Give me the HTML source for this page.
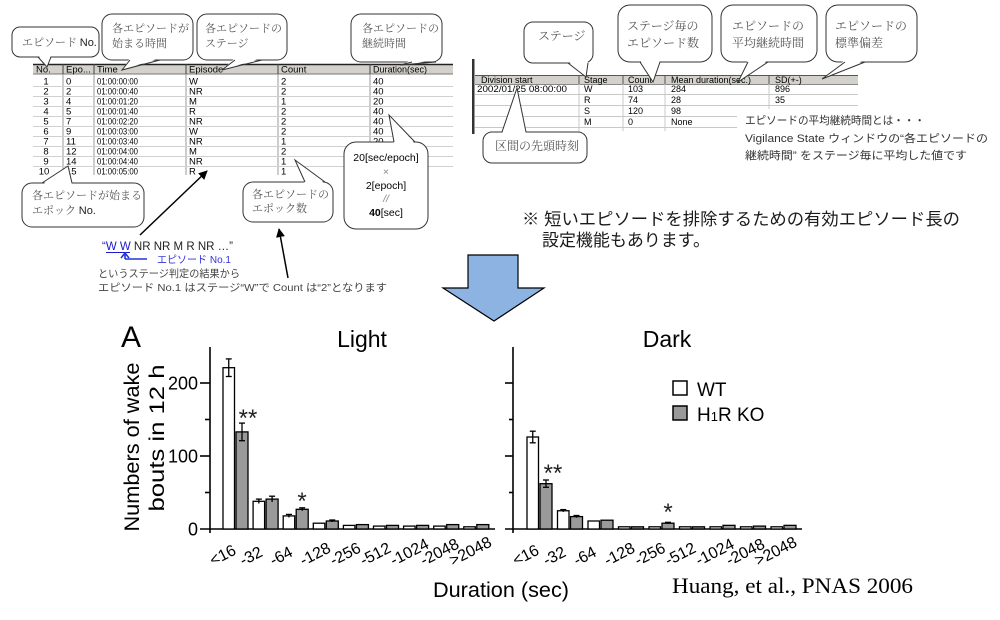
<!DOCTYPE html>
<html><head><meta charset="utf-8"><style>
html,body{margin:0;padding:0;background:#fff;}
body{width:1000px;height:620px;overflow:hidden;}
svg{display:block;}
.s{font-family:"Liberation Sans","Noto Sans CJK JP",sans-serif;}
.m{font-family:"Liberation Serif","Noto Serif CJK SC",serif;}
.tm{font-family:"Liberation Serif",serif;}
</style></head><body>
<svg width="1000" height="620" viewBox="0 0 1000 620" xmlns="http://www.w3.org/2000/svg">
<defs>
<clipPath id="lt"><rect x="0" y="60" width="470" height="115"/></clipPath>
<marker id="ah" viewBox="0 0 10 10" refX="9" refY="5" markerWidth="6" markerHeight="6" orient="auto"><path d="M0,0 L10,5 L0,10 z" fill="#000"/></marker>
</defs>

<!-- ===== LEFT TABLE ===== -->
<g clip-path="url(#lt)" class="s" font-size="9.5" fill="#000">
<rect x="33" y="64" width="420" height="10" fill="#d4d1cc"/>
<line x1="33" y1="64.5" x2="453" y2="64.5" stroke="#222" stroke-width="1.5"/>
<line x1="33" y1="74" x2="453" y2="74" stroke="#777"/>
<g stroke="#444"><line x1="63" y1="64" x2="63" y2="74"/><line x1="94" y1="64" x2="94" y2="74"/><line x1="186" y1="64" x2="186" y2="74"/><line x1="278" y1="64" x2="278" y2="74"/><line x1="370" y1="64" x2="370" y2="74"/></g>
<g stroke="#999"><line x1="63" y1="74" x2="63" y2="176"/><line x1="94" y1="74" x2="94" y2="176"/><line x1="186" y1="74" x2="186" y2="176"/><line x1="278" y1="74" x2="278" y2="176"/><line x1="370" y1="74" x2="370" y2="176"/></g>
<g stroke="#d0d0d0"><line x1="33" y1="86.5" x2="453" y2="86.5"/><line x1="33" y1="96.5" x2="453" y2="96.5"/><line x1="33" y1="106.5" x2="453" y2="106.5"/><line x1="33" y1="116.5" x2="453" y2="116.5"/><line x1="33" y1="126.5" x2="453" y2="126.5"/><line x1="33" y1="136.5" x2="453" y2="136.5"/><line x1="33" y1="146.5" x2="453" y2="146.5"/><line x1="33" y1="156.5" x2="453" y2="156.5"/><line x1="33" y1="166.5" x2="453" y2="166.5"/></g>
<text x="36" y="72.5">No.</text><text x="66" y="72.5">Epo...</text><text x="97" y="72.5">Time</text><text x="189" y="72.5">Episode</text><text x="281" y="72.5">Count</text><text x="373" y="72.5" textLength="54" lengthAdjust="spacingAndGlyphs">Duration(sec)</text>
<g text-anchor="middle">
<text x="46" y="84.5">1</text><text x="46" y="94.5">2</text><text x="46" y="104.5">3</text><text x="46" y="114.5">4</text><text x="46" y="124.5">5</text><text x="46" y="134.5">6</text><text x="46" y="144.5">7</text><text x="46" y="154.5">8</text><text x="46" y="164.5">9</text><text x="44" y="174.5">10</text>
</g>
<text x="66" y="84.5">0</text><text x="66" y="94.5">2</text><text x="66" y="104.5">4</text><text x="66" y="114.5">5</text><text x="66" y="124.5">7</text><text x="66" y="134.5">9</text><text x="66" y="144.5">11</text><text x="66" y="154.5">12</text><text x="66" y="164.5">14</text><text x="66" y="174.5">15</text>
<text x="97" y="84.5" textLength="41" lengthAdjust="spacingAndGlyphs">01:00:00:00</text>
<text x="97" y="94.5" textLength="41" lengthAdjust="spacingAndGlyphs">01:00:00:40</text>
<text x="97" y="104.5" textLength="41" lengthAdjust="spacingAndGlyphs">01:00:01:20</text>
<text x="97" y="114.5" textLength="41" lengthAdjust="spacingAndGlyphs">01:00:01:40</text>
<text x="97" y="124.5" textLength="41" lengthAdjust="spacingAndGlyphs">01:00:02:20</text>
<text x="97" y="134.5" textLength="41" lengthAdjust="spacingAndGlyphs">01:00:03:00</text>
<text x="97" y="144.5" textLength="41" lengthAdjust="spacingAndGlyphs">01:00:03:40</text>
<text x="97" y="154.5" textLength="41" lengthAdjust="spacingAndGlyphs">01:00:04:00</text>
<text x="97" y="164.5" textLength="41" lengthAdjust="spacingAndGlyphs">01:00:04:40</text>
<text x="97" y="174.5" textLength="41" lengthAdjust="spacingAndGlyphs">01:00:05:00</text>
<text x="189" y="84.5">W</text><text x="189" y="94.5">NR</text><text x="189" y="104.5">M</text><text x="189" y="114.5">R</text><text x="189" y="124.5">NR</text><text x="189" y="134.5">W</text><text x="189" y="144.5">NR</text><text x="189" y="154.5">M</text><text x="189" y="164.5">NR</text><text x="189" y="174.5">R</text>
<text x="281" y="84.5">2</text><text x="281" y="94.5">2</text><text x="281" y="104.5">1</text><text x="281" y="114.5">2</text><text x="281" y="124.5">2</text><text x="281" y="134.5">2</text><text x="281" y="144.5">1</text><text x="281" y="154.5">2</text><text x="281" y="164.5">1</text><text x="281" y="174.5">1</text>
<text x="373" y="84.5">40</text><text x="373" y="94.5">40</text><text x="373" y="104.5">20</text><text x="373" y="114.5">40</text><text x="373" y="124.5">40</text><text x="373" y="134.5">40</text><text x="373" y="144.5">20</text><text x="373" y="154.5">40</text><text x="373" y="164.5">20</text><text x="373" y="174.5">20</text>
</g>

<!-- ===== RIGHT TABLE ===== -->
<g class="s" font-size="9" fill="#000">
<rect x="472" y="59" width="2.5" height="75" fill="#333"/>
<rect x="475" y="75" width="383" height="9.5" fill="#d4d1cc"/>
<line x1="475" y1="75.5" x2="858" y2="75.5" stroke="#555"/>
<line x1="475" y1="84.5" x2="858" y2="84.5" stroke="#888"/>
<g stroke="#555"><line x1="579" y1="75" x2="579" y2="84"/><line x1="623" y1="75" x2="623" y2="84"/><line x1="665" y1="75" x2="665" y2="84"/><line x1="769" y1="75" x2="769" y2="84"/></g>
<g stroke="#c8c8c8"><line x1="579" y1="84" x2="579" y2="131"/><line x1="623" y1="84" x2="623" y2="131"/><line x1="665" y1="84" x2="665" y2="131"/><line x1="769" y1="84" x2="769" y2="131"/>
<line x1="475" y1="94.5" x2="858" y2="94.5"/><line x1="475" y1="105.5" x2="858" y2="105.5"/><line x1="475" y1="116.5" x2="858" y2="116.5"/><line x1="475" y1="127.5" x2="858" y2="127.5"/></g>
<text x="481" y="83">Division start</text><text x="584" y="83">Stage</text><text x="628" y="83">Count</text><text x="671" y="83">Mean duration(sec.)</text><text x="775" y="83">SD(+-)</text>
<text x="477" y="92" textLength="90" lengthAdjust="spacingAndGlyphs">2002/01/25 08:00:00</text>
<text x="584" y="92">W</text><text x="628" y="92">103</text><text x="671" y="92">284</text><text x="775" y="92">896</text>
<text x="584" y="103">R</text><text x="628" y="103">74</text><text x="671" y="103">28</text><text x="775" y="103">35</text>
<text x="584" y="114">S</text><text x="628" y="114">120</text><text x="671" y="114">98</text>
<text x="584" y="125">M</text><text x="628" y="125">0</text><text x="671" y="125">None</text>
</g>
<rect x="737" y="109" width="263" height="56" fill="#fff"/>
<g class="s" font-size="11" fill="#333">
<text x="745" y="124" textLength="180" lengthAdjust="spacingAndGlyphs">エピソードの平均継続時間とは・・・</text>
<text x="745" y="142" textLength="243" lengthAdjust="spacingAndGlyphs">Vigilance State ウィンドウの“各エピソードの</text>
<text x="745" y="159" textLength="222" lengthAdjust="spacingAndGlyphs">継続時間” をステージ毎に平均した値です</text>
</g>

<!-- ===== BUBBLES (left) ===== -->
<g stroke="#333" stroke-width="1" fill="#fff">
<rect x="12" y="27" width="87" height="30" rx="8"/>
<polygon points="38,55 47,67 51,55" stroke="none"/><polyline points="38,57 47,67 51,57" fill="none"/>
<rect x="102" y="14" width="91" height="46" rx="10"/>
<polygon points="130,58 122,70 160,58" stroke="none"/><polyline points="130,60 122,70 160,60" fill="none"/>
<rect x="197" y="14" width="90" height="46" rx="10"/>
<polygon points="235,58 222,70 262,58" stroke="none"/><polyline points="235,60 222,70 262,60" fill="none"/>
<rect x="351" y="14" width="91" height="48" rx="10"/>
<polygon points="412,60 400,65 436,60" stroke="none"/><polyline points="412,62 400,65 436,62" fill="none"/>
<rect x="22" y="183" width="122" height="44" rx="10"/>
<polygon points="42,185 68,166 72,185" stroke="none"/><polyline points="42,183 68,166 72,183" fill="none"/>
<rect x="243" y="182" width="90" height="40" rx="10"/>
<polygon points="305,184 295,160 325,184" stroke="none"/><polyline points="305,182 295,160 325,182" fill="none"/>
<rect x="344" y="142" width="84" height="87" rx="12"/>
<polygon points="394,144 389,115 415,144" stroke="none"/><polyline points="394,142 389,115 415,142" fill="none"/>
</g>
<!-- bubbles right -->
<g stroke="#333" stroke-width="1" fill="#fff">
<rect x="524" y="22" width="69" height="41" rx="9"/>
<polygon points="568,61 586,77 588,61" stroke="none"/><polyline points="568,63 586,77 588,63" fill="none"/>
<rect x="618" y="5" width="94" height="57" rx="12"/>
<polygon points="640,60 653,82 660,60" stroke="none"/><polyline points="640,62 653,82 660,62" fill="none"/>
<rect x="721" y="5" width="96" height="57" rx="12"/>
<polygon points="748,60 738,82 768,60" stroke="none"/><polyline points="748,62 738,82 768,62" fill="none"/>
<rect x="826" y="5" width="91" height="57" rx="12"/>
<polygon points="845,60 822,79 865,60" stroke="none"/><polyline points="845,62 822,79 865,62" fill="none"/>
<rect x="483" y="132" width="104" height="31" rx="9"/>
<polygon points="502,134 517,88 526,134" stroke="none"/><polyline points="502,132 517,88 526,132" fill="none"/>
</g>

<g class="m" font-size="11" fill="#555">
<text x="22" y="46">エピソード <tspan class="s" fill="#222">No.</tspan></text>
<text x="112" y="32">各エピソードが</text><text x="112" y="47">始まる時間</text>
<text x="205" y="32">各エピソードの</text><text x="205" y="47">ステージ</text>
<text x="362" y="32">各エピソードの</text><text x="362" y="47">継続時間</text>
<text x="32" y="199">各エピソードが始まる</text><text x="32" y="214">エポック <tspan class="s" fill="#222">No.</tspan></text>
<text x="252" y="198">各エピソードの</text><text x="252" y="212">エポック数</text>
</g>
<g class="m" font-size="12" fill="#555">
<text x="538" y="40">ステージ</text>
<text x="627" y="30">ステージ毎の</text><text x="627" y="47">エピソード数</text>
<text x="732" y="30">エピソードの</text><text x="732" y="47">平均継続時間</text>
<text x="835" y="30">エピソードの</text><text x="835" y="47">標準偏差</text>
<text x="495" y="150">区間の先頭時刻</text>
</g>
<g class="s" font-size="10.5" fill="#000" text-anchor="middle">
<text x="386" y="161">20[sec/epoch]</text>
<text x="386" y="175" fill="#888">×</text>
<text x="386" y="189">2[epoch]</text>
<text x="386" y="202" fill="#888" font-style="italic">//</text>
<text x="386" y="216"><tspan font-weight="bold">40</tspan>[sec]</text>
</g>

<!-- black arrows -->
<line x1="140" y1="235" x2="207" y2="171" stroke="#000" stroke-width="1.5" marker-end="url(#ah)"/>
<line x1="288" y1="278" x2="279" y2="229" stroke="#000" stroke-width="1.5" marker-end="url(#ah)"/>

<!-- bottom-left explanation -->
<g class="s" font-size="11.5">
<text x="102" y="250" fill="#222"><tspan fill="#1a1acc">“W W</tspan> NR NR M R NR …”</text>
</g>
<line x1="106" y1="252.5" x2="130" y2="252.5" stroke="#1a1acc" stroke-width="1"/>
<polyline points="125,259 147,259" stroke="#2233dd" stroke-width="1.6" fill="none"/>
<polyline points="121,258 125,253 129,258" stroke="#2233dd" stroke-width="1.6" fill="none"/>
<line x1="125" y1="253" x2="125" y2="259" stroke="#2233dd" stroke-width="1.6"/>
<g class="s" font-size="10.5">
<text x="157" y="263" fill="#3333dd" textLength="74" lengthAdjust="spacingAndGlyphs">エピソード No.1</text>
<text x="98" y="277" fill="#444" textLength="142" lengthAdjust="spacingAndGlyphs">というステージ判定の結果から</text>
<text x="98" y="291" fill="#444" textLength="289" lengthAdjust="spacingAndGlyphs">エピソード No.1 はステージ“W”で Count は“2”となります</text>
</g>

<!-- note -->
<g class="s" font-size="17" fill="#1a1a1a">
<text x="522" y="225" textLength="438" lengthAdjust="spacingAndGlyphs">※ 短いエピソードを排除するための有効エピソード長の</text>
<text x="542" y="246" textLength="168" lengthAdjust="spacingAndGlyphs">設定機能もあります。</text>
</g>

<!-- big blue arrow -->
<polygon points="468,255 518,255 518,288 544,288 494,321 443,288 468,288" fill="#8db3e2" stroke="#000" stroke-width="1.2"/>

<!-- ===== CHART ===== -->
<g class="s" fill="#000">
<text x="121" y="347" font-size="30">A</text>
<text x="362" y="347" font-size="23" text-anchor="middle">Light</text>
<text x="667" y="347" font-size="23" text-anchor="middle">Dark</text>
<text transform="translate(139,447) rotate(-90)" font-size="21" text-anchor="middle" textLength="169" lengthAdjust="spacingAndGlyphs">Numbers of wake</text>
<text transform="translate(164,438) rotate(-90)" font-size="21" text-anchor="middle" textLength="147" lengthAdjust="spacingAndGlyphs">bouts  in 12 h</text>
<g font-size="18" text-anchor="end">
<text x="198" y="389.5">200</text><text x="198" y="462.5">100</text><text x="198" y="535.5">0</text>
</g>
<text x="433" y="597" font-size="21.5" textLength="136" lengthAdjust="spacingAndGlyphs">Duration (sec)</text>
</g>

<!-- axes -->
<g stroke="#000" stroke-width="1.6" fill="none">
<line x1="210" y1="347" x2="210" y2="533"/>
<line x1="200" y1="529" x2="495" y2="529"/>
<line x1="200" y1="383" x2="210" y2="383"/><line x1="200" y1="456" x2="210" y2="456"/>
<line x1="205" y1="419.5" x2="210" y2="419.5"/><line x1="205" y1="492.5" x2="210" y2="492.5"/>
<line x1="513" y1="347" x2="513" y2="533"/>
<line x1="505" y1="529" x2="802" y2="529"/>
<line x1="505" y1="383" x2="513" y2="383"/><line x1="505" y1="456" x2="513" y2="456"/>
<line x1="509" y1="419.5" x2="513" y2="419.5"/><line x1="509" y1="492.5" x2="513" y2="492.5"/>
</g>

<!-- bars -->
<g stroke="#000" stroke-width="1.3">
<g fill="#fff">
<rect x="223" y="367.7" width="11.5" height="161.3"/>
<rect x="253.1" y="501.3" width="11.5" height="27.7"/>
<rect x="283.2" y="515.9" width="11.5" height="13.1"/>
<rect x="313.3" y="523.2" width="11.5" height="5.8"/>
<rect x="343.4" y="525.4" width="11.5" height="3.6"/>
<rect x="373.5" y="526.1" width="11.5" height="2.9"/>
<rect x="403.6" y="526.1" width="11.5" height="2.9"/>
<rect x="433.7" y="526.1" width="11.5" height="2.9"/>
<rect x="463.8" y="526.8" width="11.5" height="2.2"/>
</g>
<g fill="#9a9a9a">
<rect x="236" y="431.9" width="12" height="97.1"/>
<rect x="266.1" y="499.1" width="12" height="29.9"/>
<rect x="296.2" y="509.3" width="12" height="19.7"/>
<rect x="326.3" y="521" width="12" height="8"/>
<rect x="356.4" y="524.6" width="12" height="4.4"/>
<rect x="386.5" y="525.4" width="12" height="3.6"/>
<rect x="416.6" y="525.4" width="12" height="3.6"/>
<rect x="446.7" y="524.6" width="12" height="4.4"/>
<rect x="476.8" y="524.6" width="12" height="4.4"/>
</g>
<g fill="#fff">
<rect x="527" y="437" width="11.5" height="92"/>
<rect x="557.5" y="510.75" width="11.5" height="18.25"/>
<rect x="588" y="521" width="11.5" height="8"/>
<rect x="618.5" y="526.8" width="11.5" height="2.2"/>
<rect x="649" y="526.8" width="11.5" height="2.2"/>
<rect x="679.5" y="526.8" width="11.5" height="2.2"/>
<rect x="710" y="526.8" width="11.5" height="2.2"/>
<rect x="740.5" y="526.8" width="11.5" height="2.2"/>
<rect x="771" y="526.8" width="11.5" height="2.2"/>
</g>
<g fill="#9a9a9a">
<rect x="540" y="483.7" width="12" height="45.3"/>
<rect x="570.5" y="516.6" width="12" height="12.4"/>
<rect x="601" y="520.2" width="12" height="8.8"/>
<rect x="631.5" y="526.8" width="12" height="2.2"/>
<rect x="662" y="523.2" width="12" height="5.8"/>
<rect x="692.5" y="526.8" width="12" height="2.2"/>
<rect x="723" y="525.35" width="12" height="3.65"/>
<rect x="753.5" y="526.1" width="12" height="2.9"/>
<rect x="784" y="525.35" width="12" height="3.65"/>
</g>
</g>

<!-- error bars -->
<g stroke="#000" stroke-width="1.3" fill="none">
<line x1="228.75" y1="358.9" x2="228.75" y2="376.5"/><line x1="225.75" y1="358.9" x2="231.75" y2="358.9"/><line x1="225.75" y1="376.5" x2="231.75" y2="376.5"/>
<line x1="242" y1="423.1" x2="242" y2="440.7"/><line x1="239" y1="423.1" x2="245" y2="423.1"/><line x1="239" y1="440.7" x2="245" y2="440.7"/>
<line x1="258.85" y1="499.1" x2="258.85" y2="503.5"/><line x1="255.85" y1="499.1" x2="261.85" y2="499.1"/>
<line x1="272.1" y1="496.2" x2="272.1" y2="502"/><line x1="269.1" y1="496.2" x2="275.1" y2="496.2"/>
<line x1="288.95" y1="514.4" x2="288.95" y2="517.4"/><line x1="285.95" y1="514.4" x2="291.95" y2="514.4"/>
<line x1="302.2" y1="507.8" x2="302.2" y2="510.8"/><line x1="299.2" y1="507.8" x2="305.2" y2="507.8"/>
<line x1="332.3" y1="520" x2="332.3" y2="522"/><line x1="329.3" y1="520" x2="335.3" y2="520"/>
<line x1="532.75" y1="431.2" x2="532.75" y2="442.8"/><line x1="529.75" y1="431.2" x2="535.75" y2="431.2"/><line x1="529.75" y1="442.8" x2="535.75" y2="442.8"/>
<line x1="546" y1="480" x2="546" y2="487.3"/><line x1="543" y1="480" x2="549" y2="480"/><line x1="543" y1="487.3" x2="549" y2="487.3"/>
<line x1="563.25" y1="509.6" x2="563.25" y2="511.9"/><line x1="560.25" y1="509.6" x2="566.25" y2="509.6"/>
<line x1="576.5" y1="515.5" x2="576.5" y2="517.7"/><line x1="573.5" y1="515.5" x2="579.5" y2="515.5"/>
<line x1="668" y1="522.3" x2="668" y2="524"/><line x1="665" y1="522.3" x2="671" y2="522.3"/>
</g>

<!-- significance -->
<g class="s" font-size="24" text-anchor="middle" fill="#222">
<text x="248" y="426">**</text>
<text x="302" y="509">*</text>
<text x="553" y="481">**</text>
<text x="668" y="520">*</text>
</g>

<!-- x tick labels -->
<g class="s" font-size="16" fill="#000">
<text transform="translate(213,566) rotate(-27)">&lt;16</text>
<text transform="translate(243.1,566) rotate(-27)">-32</text>
<text transform="translate(273.2,566) rotate(-27)">-64</text>
<text transform="translate(303.3,566) rotate(-27)">-128</text>
<text transform="translate(333.4,566) rotate(-27)">-256</text>
<text transform="translate(363.5,566) rotate(-27)">-512</text>
<text transform="translate(393.6,566) rotate(-27)">-1024</text>
<text transform="translate(423.7,566) rotate(-27)">-2048</text>
<text transform="translate(452.8,566) rotate(-27)">&gt;2048</text>
<text transform="translate(516,566) rotate(-27)">&lt;16</text>
<text transform="translate(546.5,566) rotate(-27)">-32</text>
<text transform="translate(577,566) rotate(-27)">-64</text>
<text transform="translate(607.5,566) rotate(-27)">-128</text>
<text transform="translate(638,566) rotate(-27)">-256</text>
<text transform="translate(668.5,566) rotate(-27)">-512</text>
<text transform="translate(699,566) rotate(-27)">-1024</text>
<text transform="translate(729.5,566) rotate(-27)">-2048</text>
<text transform="translate(758,566) rotate(-27)">&gt;2048</text>
</g>

<!-- legend -->
<rect x="673" y="381" width="14" height="14" fill="#fff" stroke="#000" stroke-width="1.5"/>
<rect x="673" y="406" width="14" height="14" fill="#9a9a9a" stroke="#000" stroke-width="1.5"/>
<g class="s" font-size="19" fill="#000">
<text x="697" y="396">WT</text>
<text x="697" y="421">H<tspan font-size="13">1</tspan>R KO</text>
</g>

<!-- citation -->
<text x="672" y="593" class="tm" font-size="22" fill="#000" textLength="241" lengthAdjust="spacingAndGlyphs">Huang, et al., PNAS 2006</text>
</svg>
</body></html>
